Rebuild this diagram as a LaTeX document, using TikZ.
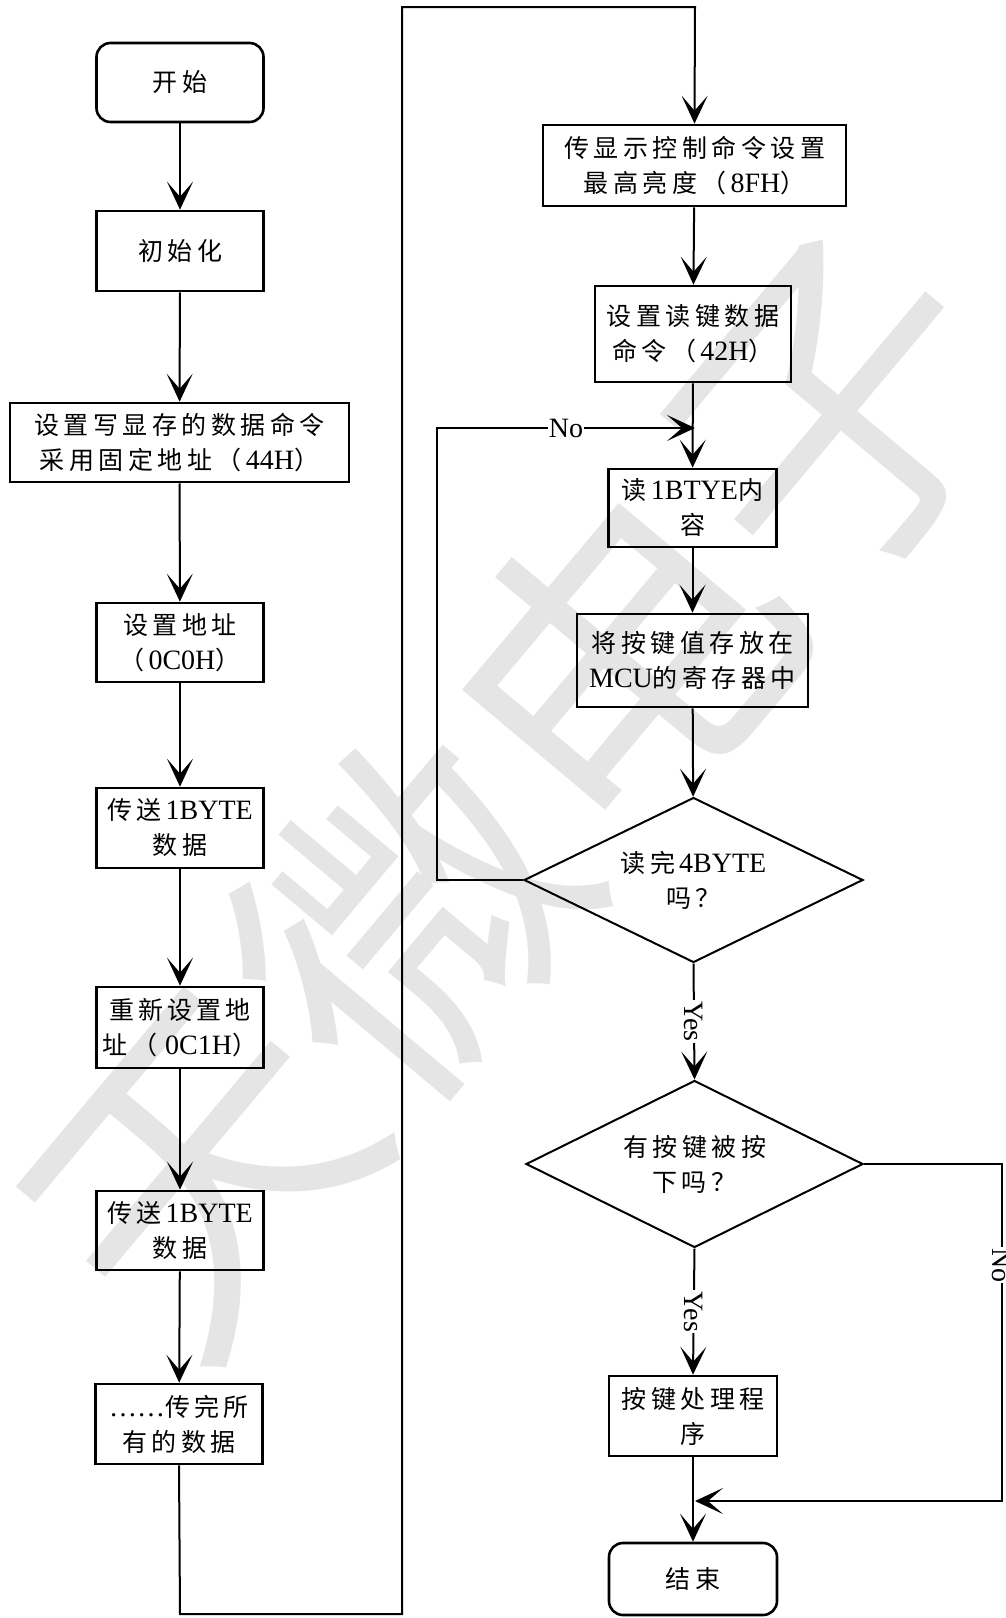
\documentclass[tikz,border=0pt]{standalone}
\usepackage{fontspec}
\setmainfont{Liberation Serif}[Scale=1.12]
\newfontfamily\cjk[LetterSpace=18]{Noto Sans CJK SC}
\newfontfamily\wmfont{Noto Sans CJK SC}
\usetikzlibrary{arrows.meta,shapes.geometric}
\newcommand\zh[1]{{\cjk #1}}
\newcommand\gp{\hspace{4pt}}
\newcommand\fsz{\fontsize{25}{35}\selectfont}
\begin{document}
\begin{tikzpicture}[x=1pt,y=-1pt,
  box/.style n args={2}{draw, line width=2.6pt, minimum width=#1, minimum height=#2, inner sep=0pt, align=center, font=\fsz},
  rbox/.style n args={2}{box={#1}{#2}, rounded corners=14pt},
  dia/.style n args={2}{draw, diamond, line width=2pt, aspect=2.05, minimum width=#1, minimum height=#2, inner sep=0pt, align=center, font=\fsz},
  conn/.style={line width=2pt},
  arr/.style={line width=2pt, -{Stealth[length=28pt,width=26pt,inset=15pt]}},
  lab/.style={font=\fontsize{25}{28}\selectfont, fill=white, inner sep=1pt},
]
\useasboundingbox (0,0) rectangle (1005,1618);
\fill[white] (0,0) rectangle (1005,1618);
% watermark
\node[rotate=50, text=black!10, font=\wmfont\fontsize{330}{330}\selectfont, inner sep=0pt] (wm) at (516,789) {天微电子};

% left column
\node[rbox={167}{79}] (start) at (180,82.5) {\zh{开始}};
\node[box={167}{80}] (init) at (180,251) {\zh{初始化}};
\node[box={339}{79}] (b3) at (179.5,442.5) {\zh{设置写显存的数据命令}\\\zh{采用固定地址（}\gp 44H\zh{）}};
\node[box={167}{79}] (b4) at (180,642.5) {\zh{设置地址}\\\zh{（}\gp 0C0H\zh{）}};
\node[box={167}{80}] (b5) at (180,828) {\zh{传送}\gp 1BYTE\\\zh{数据}};
\node[box={167}{81}] (b6) at (180,1027.5) {\zh{重\,新\,设\,置\,地}\\\zh{址\,（\,}\gp 0C1H\zh{）}};
\node[box={167}{79}] (b7) at (180,1230.5) {\zh{传送}\gp 1BYTE\\\zh{数据}};
\node[box={167}{80}] (b8) at (179,1424) {……\zh{传完所}\\\zh{有的数据}};

% right column
\node[box={303}{81}] (b9) at (694.5,165.5) {\zh{传显示控制命令设置}\\\zh{最高亮度（}\gp 8FH\zh{）}};
\node[box={196}{96}] (b10) at (693,334) {\zh{设置读键数据}\\\zh{命令（}\gp 42H\zh{）}};
\node[box={168}{78}] (b11) at (692.5,508) {\zh{读}\gp 1BTYE\zh{内}\\\zh{容}};
\node[box={231}{93}] (b12) at (692.5,660.5) {\zh{将按键值存放在}\\MCU\zh{的寄存器中}};
\node[dia={339}{165}] (d1) at (693.5,880) {\zh{读完}\gp 4BYTE\\\zh{吗？}};
\node[dia={337}{167}] (d2) at (694.5,1164) {\zh{有按键被按}\\\zh{下吗？}};
\node[box={168}{80}] (b13) at (693,1416) {\zh{按键处理程}\\\zh{序}};
\node[rbox={168}{72}] (end) at (693,1579) {\zh{结束}};

\coordinate (c1) at (180,1614);
\coordinate (c2) at (402,1614);
\coordinate (c3) at (402,7);
\coordinate (c4) at (695,7);
\coordinate (j1) at (695,428);
\coordinate (l1) at (437,880);
\coordinate (l2) at (437,428);
\coordinate (r1) at (1002,1164);
\coordinate (r2) at (1002,1501);
\coordinate (j2) at (695,1501);

% left connectors
\draw[arr] (start) -- (init);
\draw[arr] (init) -- (b3);
\draw[arr] (b3) -- (b4);
\draw[arr] (b4) -- (b5);
\draw[arr] (b5) -- (b6);
\draw[arr] (b6) -- (b7);
\draw[arr] (b7) -- (b8);
\draw[arr] (b8.south) -- (c1) -- (c2) -- (c3) -- (c4) -- (b9.north);

% right connectors
\draw[arr] (b9) -- (b10);
\draw[arr] (b10) -- (b11);
\draw[arr] (d1.west) -- (l1) -- (l2) -- node[lab, pos=0.5] {No} (j1);
\draw[arr] (b11) -- (b12);
\draw[arr] (b12) -- (d1);
\draw[arr] (d1.south) -- node[lab, rotate=-90, pos=0.5] {Yes} (d2.north);
\draw[arr] (d2.south) -- node[lab, rotate=-90, pos=0.5] {Yes} (b13.north);
\draw[arr] (b13) -- (end);
\draw[arr] (d2.east) -- (r1) -- node[lab, rotate=-90, pos=0.3] {No} (r2) -- (j2);
\end{tikzpicture}
\end{document}
